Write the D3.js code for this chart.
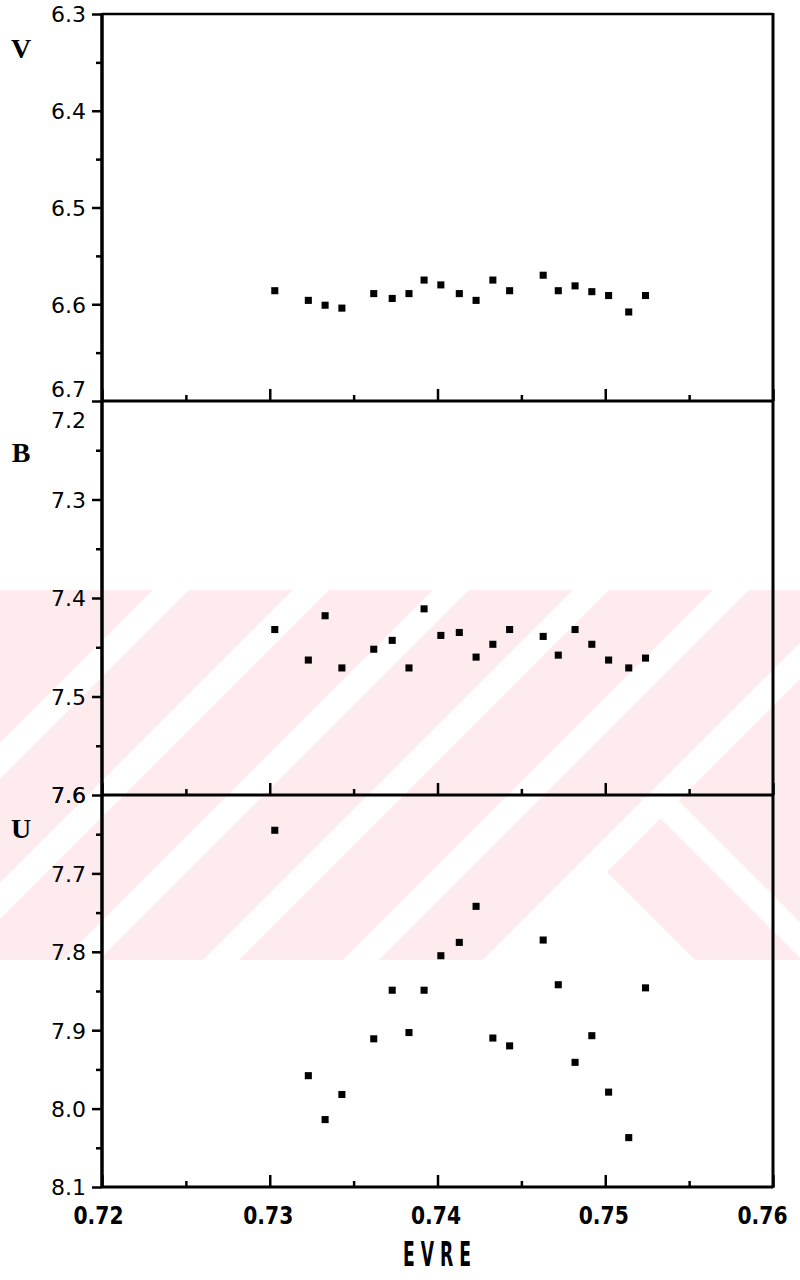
<!DOCTYPE html>
<html>
<head>
<meta charset="utf-8">
<script src="https://cdn.jsdelivr.net/npm/d3@7"></script>
<style>
  html, body { margin: 0; padding: 0; background: #fff; }
  svg { display: block; }
</style>
</head>
<body>
<svg id="chart" width="800" height="1280"></svg>
<script>
// Colour index (E) shared by the three panels
const evre = [0.7303, 0.7323, 0.7333, 0.7343, 0.7362, 0.7373, 0.7383, 0.7392, 0.7402, 0.7413,
              0.7423, 0.7433, 0.7443, 0.7463, 0.7472, 0.7482, 0.7492, 0.7502, 0.7514, 0.7524];

// Magnitudes per band
const vMag = [6.586, 6.596, 6.601, 6.604, 6.589, 6.594, 6.589, 6.575, 6.580, 6.589,
              6.596, 6.575, 6.586, 6.570, 6.586, 6.581, 6.587, 6.591, 6.608, 6.591];
const bMag = [7.432, 7.463, 7.418, 7.471, 7.452, 7.443, 7.471, 7.411, 7.438, 7.435,
              7.460, 7.447, 7.432, 7.439, 7.458, 7.432, 7.447, 7.463, 7.471, 7.461];
const uMag = [7.645, 7.958, 8.014, 7.982, 7.911, 7.849, 7.903, 7.849, 7.805, 7.788,
              7.742, 7.910, 7.920, 7.785, 7.842, 7.941, 7.907, 7.979, 8.037, 7.846];

// Tick labels
const xTicks = [0.72, 0.73, 0.74, 0.75, 0.76];
const xMinor = [0.725, 0.735, 0.745, 0.755];
const vTicks = [6.3, 6.4, 6.5, 6.6, 6.7];
const bTicks = [7.2, 7.3, 7.4, 7.5, 7.6];
const uTicks = [7.6, 7.7, 7.8, 7.9, 8.0, 8.1];

const svg = d3.select("#chart");

// ---- faint background stamp ----
const stamp = svg.append("g");
const defs = svg.append("defs");
defs.append("clipPath").attr("id", "stampClip")
  .append("rect").attr("x", 0).attr("y", 590).attr("width", 800).attr("height", 370);
const sg = stamp.append("g").attr("clip-path", "url(#stampClip)");
sg.append("rect").attr("x", 0).attr("y", 590).attr("width", 800).attr("height", 370).attr("fill", "#fdebee");
const gapW = 36;
[43, 183, 323, 463, 603, 743].forEach(x0 => {
  const pts = [[x0 + 110, 590], [x0 + 110 + gapW, 590], [x0 - 260 + gapW, 960], [x0 - 260, 960]];
  sg.append("polygon").attr("points", pts.map(p => p.join(",")).join(" ")).attr("fill", "#fff");
});
sg.append("polygon").attr("points", "592,857 489,960 695,960").attr("fill", "#fff");
sg.append("polygon").attr("points", "640,798 676,798 838,960 802,960").attr("fill", "#fff");

// ---- layout ----
const xLeft = 102, xRight = 773;
const x = d3.scaleLinear().domain([0.72, 0.76]).range([xLeft, xRight]);

const panels = [
  { name: "V", ticks: vTicks, vals: vMag, top: 14,  bottom: 401,  labelY: 52 },
  { name: "B", ticks: bTicks, vals: bMag, top: 401, bottom: 795,  labelY: 456 },
  { name: "U", ticks: uTicks, vals: uMag, top: 795, bottom: 1187, labelY: 832 }
];

const tickFont = "'DejaVu Sans', sans-serif";

panels.forEach((p, i) => {
  const lo = p.ticks[0], hi = p.ticks[p.ticks.length - 1];
  const y = d3.scaleLinear().domain([lo, hi]).range([p.top, p.bottom]);
  const g = svg.append("g");

  // minor ticks on the left axis
  const minors = d3.range(p.ticks.length - 1).map(k => +(p.ticks[k] + 0.05).toFixed(3));
  g.append("g").attr("transform", `translate(${xLeft},0)`)
    .call(d3.axisLeft(y).tickValues(minors).tickSize(6).tickFormat(""))
    .call(a => a.select(".domain").remove())
    .call(a => a.selectAll("line").attr("stroke", "#000").attr("stroke-width", 2.5));

  // major ticks + labels on the left axis
  const ax = g.append("g").attr("transform", `translate(${xLeft},0)`)
    .call(d3.axisLeft(y).tickValues(p.ticks).tickSize(10).tickPadding(6).tickFormat(d3.format(".1f")))
    .call(a => a.select(".domain").remove())
    .call(a => a.selectAll("line").attr("stroke", "#000").attr("stroke-width", 2.5));
  ax.selectAll("text")
    .attr("font-family", tickFont).attr("font-size", 22).attr("fill", "#000")
    .attr("dy", "0.36em")
    .attr("transform", d => {
      if (i === 0 && d === hi) return "translate(0,-12)";
      if (i === 1 && d === lo) return "translate(0,19)";
      return null;
    });
  // suppress the duplicate tick at the lower panel boundaries
  if (i > 0) ax.selectAll(".tick").filter(d => d === lo).select("line").remove();

  // bottom axis of the panel: ticks pointing inward
  g.append("g").attr("transform", `translate(0,${p.bottom})`)
    .call(d3.axisBottom(x).tickValues(xMinor).tickSize(-6).tickFormat(""))
    .call(a => a.select(".domain").remove())
    .call(a => a.selectAll("line").attr("stroke", "#000").attr("stroke-width", 2.5));
  const bx2 = g.append("g").attr("transform", `translate(0,${p.bottom})`)
    .call(d3.axisBottom(x).tickValues(xTicks).tickSize(-12).tickPadding(19)
      .tickFormat(i === 2 ? d3.format(".2f") : ""))
    .call(a => a.select(".domain").remove())
    .call(a => a.selectAll("line").attr("stroke", "#000").attr("stroke-width", 2.5));
  bx2.selectAll("text")
    .attr("font-family", tickFont).attr("font-weight", "bold")
    .attr("font-size", 25).attr("fill", "#000")
    .attr("dy", "0.7em")
    .attr("x", d => d === 0.76 ? -11 : (d === 0.72 ? -4 : -2))
    .attr("textLength", 50).attr("lengthAdjust", "spacingAndGlyphs");

  // panel boundary line
  g.append("line").attr("x1", xLeft).attr("x2", xRight)
    .attr("y1", p.bottom).attr("y2", p.bottom)
    .attr("stroke", "#000").attr("stroke-width", 3);

  // band name
  svg.append("text").attr("x", 21).attr("y", p.labelY)
    .attr("text-anchor", "middle").attr("dominant-baseline", "middle")
    .attr("font-family", "'Liberation Serif', serif").attr("font-weight", "bold")
    .attr("font-size", 28).attr("fill", "#000").text(p.name);

  // data points
  g.append("g").selectAll("path").data(p.vals).join("path")
    .attr("transform", (d, k) => `translate(${x(evre[k])},${y(d)})`)
    .attr("d", d3.symbol(d3.symbolSquare, 50))
    .attr("fill", "#000");
});

// frame: top, left and right sides
svg.append("line").attr("x1", xLeft).attr("x2", xRight).attr("y1", 14).attr("y2", 14)
  .attr("stroke", "#000").attr("stroke-width", 2.5);
svg.append("line").attr("x1", xLeft).attr("x2", xLeft).attr("y1", 13).attr("y2", 1188)
  .attr("stroke", "#000").attr("stroke-width", 3.5);
svg.append("line").attr("x1", xRight).attr("x2", xRight).attr("y1", 13).attr("y2", 1188)
  .attr("stroke", "#000").attr("stroke-width", 3);

// x axis title
svg.append("text").attr("x", 437).attr("y", 1256)
  .attr("text-anchor", "middle").attr("dominant-baseline", "middle")
  .attr("font-family", tickFont).attr("font-weight", "bold")
  .attr("font-size", 33)
  .attr("textLength", 68).attr("lengthAdjust", "spacingAndGlyphs")
  .attr("fill", "#000").text("E V R E");
</script>
</body>
</html>
